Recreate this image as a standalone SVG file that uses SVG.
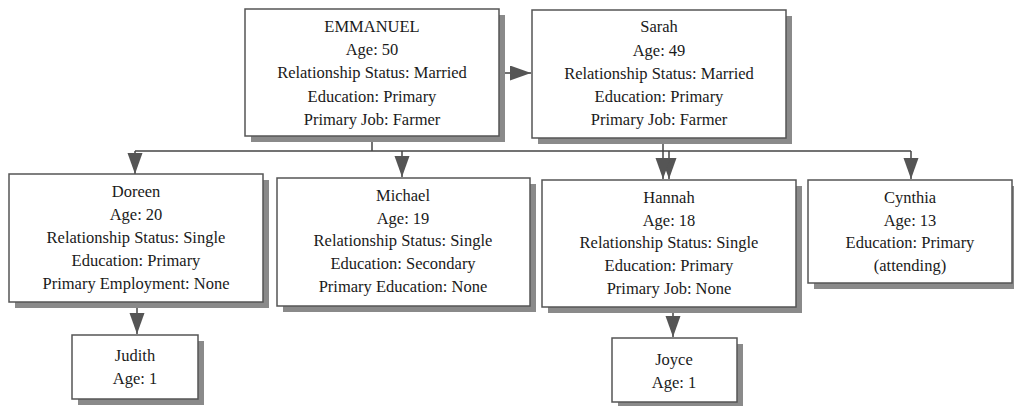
<svg xmlns="http://www.w3.org/2000/svg" width="1014" height="406" viewBox="0 0 1014 406">
<style>
  .box { fill: #ffffff; stroke: #555555; stroke-width: 1.5; }
  .shadow { fill: #8a8a8a; stroke: none; }
  .t { font-family: 'Times New Roman', Times, 'Liberation Serif', 'DejaVu Serif', 'Noto Serif', serif; font-size: 16.5px; fill: #1a1a1a; text-anchor: middle; }
  .c { fill: none; stroke: #444444; stroke-width: 1.5; }
</style>
<defs>
  <marker id="ah" markerUnits="userSpaceOnUse" markerWidth="21" markerHeight="16" refX="21" refY="7.5" orient="auto">
    <path d="M0,0 L21,7.5 L0,15 z" fill="#555555"/>
  </marker>
</defs>
<rect x="0" y="0" width="1014" height="406" fill="#ffffff"/>

<g id="connectors">
  <path class="c" d="M499,73 L531,73" marker-end="url(#ah)"/>
  <path class="c" d="M372,137 L372,151"/>
  <path class="c" d="M135,151 L911,151"/>
  <path class="c" d="M135,151 L135,174" marker-end="url(#ah)"/>
  <path class="c" d="M402,151 L402,177" marker-end="url(#ah)"/>
  <path class="c" d="M669,151 L669,179" marker-end="url(#ah)"/>
  <path class="c" d="M663,139 L663,179" marker-end="url(#ah)"/>
  <path class="c" d="M911,151 L911,179" marker-end="url(#ah)"/>
  <path class="c" d="M137,303 L137,334" marker-end="url(#ah)"/>
  <path class="c" d="M673,308 L673,337" marker-end="url(#ah)"/>
</g>

<g id="node-emmanuel">
  <rect class="shadow" x="251" y="15" width="254" height="127"/>
  <rect class="box" x="245" y="9" width="254" height="127"/>
  <text class="t" x="372" y="32">EMMANUEL</text>
  <text class="t" x="372" y="55">Age: 50</text>
  <text class="t" x="372" y="78">Relationship Status: Married</text>
  <text class="t" x="372" y="102">Education: Primary</text>
  <text class="t" x="372" y="125">Primary Job: Farmer</text>
</g>

<g id="node-sarah">
  <rect class="shadow" x="538" y="16" width="254" height="128"/>
  <rect class="box" x="532" y="10" width="254" height="128"/>
  <text class="t" x="659" y="32">Sarah</text>
  <text class="t" x="659" y="56">Age: 49</text>
  <text class="t" x="659" y="79">Relationship Status: Married</text>
  <text class="t" x="659" y="102">Education: Primary</text>
  <text class="t" x="659" y="125">Primary Job: Farmer</text>
</g>

<g id="node-doreen">
  <rect class="shadow" x="15" y="180" width="254" height="128"/>
  <rect class="box" x="9" y="174" width="254" height="128"/>
  <text class="t" x="136" y="197">Doreen</text>
  <text class="t" x="136" y="220">Age: 20</text>
  <text class="t" x="136" y="243">Relationship Status: Single</text>
  <text class="t" x="136" y="266">Education: Primary</text>
  <text class="t" x="136" y="289">Primary Employment: None</text>
</g>

<g id="node-michael">
  <rect class="shadow" x="283" y="184" width="253" height="128"/>
  <rect class="box" x="277" y="178" width="253" height="128"/>
  <text class="t" x="403" y="201">Michael</text>
  <text class="t" x="403" y="224">Age: 19</text>
  <text class="t" x="403" y="246">Relationship Status: Single</text>
  <text class="t" x="403" y="269">Education: Secondary</text>
  <text class="t" x="403" y="292">Primary Education: None</text>
</g>

<g id="node-hannah">
  <rect class="shadow" x="548" y="186" width="254" height="127"/>
  <rect class="box" x="542" y="180" width="254" height="127"/>
  <text class="t" x="669" y="203">Hannah</text>
  <text class="t" x="669" y="226">Age: 18</text>
  <text class="t" x="669" y="248">Relationship Status: Single</text>
  <text class="t" x="669" y="271">Education: Primary</text>
  <text class="t" x="669" y="294">Primary Job: None</text>
</g>

<g id="node-cynthia">
  <rect class="shadow" x="814" y="186" width="204" height="103"/>
  <rect class="box" x="808" y="180" width="204" height="103"/>
  <text class="t" x="910" y="203">Cynthia</text>
  <text class="t" x="910" y="226">Age: 13</text>
  <text class="t" x="910" y="248">Education: Primary</text>
  <text class="t" x="910" y="271">(attending)</text>
</g>

<g id="node-judith">
  <rect class="shadow" x="78" y="341" width="126" height="64"/>
  <rect class="box" x="72" y="335" width="126" height="64"/>
  <text class="t" x="135" y="361">Judith</text>
  <text class="t" x="135" y="384">Age: 1</text>
</g>

<g id="node-joyce">
  <rect class="shadow" x="618" y="344" width="125" height="64"/>
  <rect class="box" x="612" y="338" width="125" height="64"/>
  <text class="t" x="674" y="365">Joyce</text>
  <text class="t" x="674" y="388">Age: 1</text>
</g>
</svg>
